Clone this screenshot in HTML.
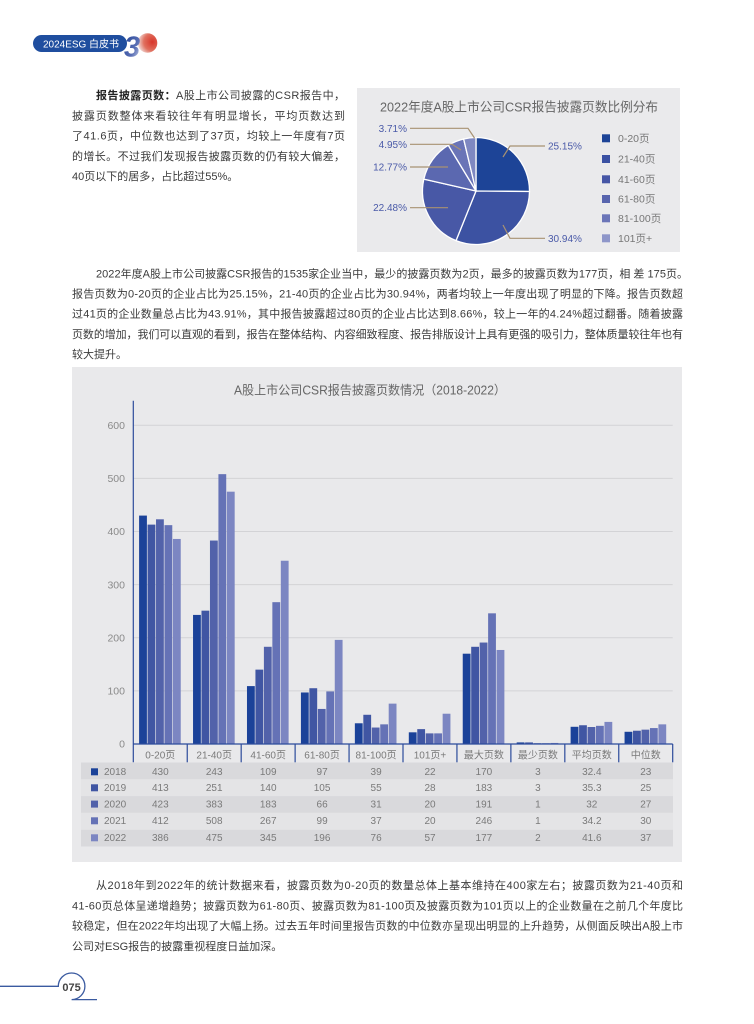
<!DOCTYPE html>
<html>
<head>
<meta charset="utf-8">
<style>
html,body{margin:0;padding:0;background:#ffffff;}
svg{display:block;}
</style>
</head>
<body>
<svg xmlns="http://www.w3.org/2000/svg" width="754" height="1024" viewBox="0 0 754 1024" font-family="'Liberation Sans','Noto Sans CJK SC',sans-serif">
<defs>
  <radialGradient id="redg" cx="0.75" cy="0.45" r="0.8">
    <stop offset="0" stop-color="#d8352a"/>
    <stop offset="0.55" stop-color="#e0705f"/>
    <stop offset="1" stop-color="#f4f0f0"/>
  </radialGradient>
  <linearGradient id="blueg" x1="0" y1="0" x2="1" y2="1">
    <stop offset="0" stop-color="#1c3f92"/>
    <stop offset="0.6" stop-color="#5a6fb5"/>
    <stop offset="1" stop-color="#e6e9f3"/>
  </linearGradient>
</defs>

<!-- Header -->
<rect x="33" y="35" width="94" height="17" rx="8.5" fill="#1f4e9f"/>
<text x="43" y="47.6" font-size="10" fill="#ffffff" textLength="76" lengthAdjust="spacingAndGlyphs">2024ESG 白皮书</text>
<circle cx="147.5" cy="43" r="9.8" fill="url(#redg)"/>
<text x="124" y="56.5" font-size="29" font-weight="bold" font-style="italic" fill="url(#blueg)">3</text>

<!-- Paragraph 1 -->
<g font-size="11" fill="#3a3a3a">
  <text x="96" y="99" textLength="249" lengthAdjust="spacing"><tspan font-weight="bold" fill="#222">报告披露页数：</tspan>A股上市公司披露的CSR报告中，</text>
  <text x="72" y="119.3" textLength="273" lengthAdjust="spacing">披露页数整体来看较往年有明显增长，平均页数达到</text>
  <text x="72" y="139.6" textLength="273" lengthAdjust="spacing">了41.6页，中位数也达到了37页，均较上一年度有7页</text>
  <text x="72" y="159.9" textLength="273" lengthAdjust="spacing">的增长。不过我们发现报告披露页数的仍有较大偏差，</text>
  <text x="72" y="180.2">40页以下的居多，占比超过55%。</text>
</g>

<!-- Pie panel -->
<rect x="357" y="88" width="323" height="164" fill="#eaeaec"/>
<text x="380" y="111.3" font-size="13" fill="#666666" textLength="278" lengthAdjust="spacingAndGlyphs">2022年度A股上市公司CSR报告披露页数比例分布</text>
<g stroke="#ffffff" stroke-width="1.3" stroke-linejoin="round">
  <path d="M476,191 L476,137.5 A53.5,53.5 0 0,1 529.5,191.5 Z" fill="#1d4497"/>
  <path d="M476,191 L529.5,191.5 A53.5,53.5 0 0,1 456.03,240.63 Z" fill="#3c52a2"/>
  <path d="M476,191 L456.03,240.63 A53.5,53.5 0 0,1 423.84,179.10 Z" fill="#4858a6"/>
  <path d="M476,191 L423.84,179.10 A53.5,53.5 0 0,1 448.30,145.23 Z" fill="#5b68b0"/>
  <path d="M476,191 L448.30,145.23 A53.5,53.5 0 0,1 463.64,138.95 Z" fill="#6a74b7"/>
  <path d="M476,191 L463.64,138.95 A53.5,53.5 0 0,1 476,137.5 Z" fill="#7f88c1"/>
</g>
<g stroke="#a89272" stroke-width="1.2" fill="none">
  <polyline points="503,157 510,146 545,146"/>
  <polyline points="503,225 510,238.3 545,238.3"/>
  <polyline points="410,207.7 448,207.7"/>
  <polyline points="410,167 448,167"/>
  <polyline points="410,144.3 452,144.3 461,150"/>
  <polyline points="410,128.3 468,128.3 474.5,138"/>
</g>
<g font-size="10" fill="#4a5aa8">
  <text x="548" y="149.5">25.15%</text>
  <text x="548" y="241.8">30.94%</text>
  <text x="407" y="211.2" text-anchor="end">22.48%</text>
  <text x="407" y="170.5" text-anchor="end">12.77%</text>
  <text x="407" y="147.8" text-anchor="end">4.95%</text>
  <text x="407" y="131.8" text-anchor="end">3.71%</text>
</g>
<g>
  <rect x="602" y="134.3" width="8" height="8" fill="#1d4497"/>
  <rect x="602" y="155" width="8" height="8" fill="#3b51a3"/>
  <rect x="602" y="175.3" width="8" height="8" fill="#4656a6"/>
  <rect x="602" y="195" width="8" height="8" fill="#5865ae"/>
  <rect x="602" y="214.3" width="8" height="8" fill="#6b75b8"/>
  <rect x="602" y="234.3" width="8" height="8" fill="#8e96c9"/>
</g>
<g font-size="10.5" fill="#777777">
  <text x="618" y="142">0-20页</text>
  <text x="618" y="162.7">21-40页</text>
  <text x="618" y="183">41-60页</text>
  <text x="618" y="202.7">61-80页</text>
  <text x="618" y="222">81-100页</text>
  <text x="618" y="242">101页+</text>
</g>

<!-- Paragraph 2 -->
<g font-size="11" fill="#3a3a3a">
  <text x="96" y="277.3" textLength="592" lengthAdjust="spacing">2022年度A股上市公司披露CSR报告的1535家企业当中，最少的披露页数为2页，最多的披露页数为177页，相 差 175页。</text>
  <text x="72" y="297.5" textLength="611" lengthAdjust="spacing">报告页数为0-20页的企业占比为25.15%，21-40页的企业占比为30.94%，两者均较上一年度出现了明显的下降。报告页数超</text>
  <text x="72" y="317.7" textLength="611" lengthAdjust="spacing">过41页的企业数量总占比为43.91%，其中报告披露超过80页的企业占比达到8.66%，较上一年的4.24%超过翻番。随着披露</text>
  <text x="72" y="337.9" textLength="611" lengthAdjust="spacing">页数的增加，我们可以直观的看到，报告在整体结构、内容细致程度、报告排版设计上具有更强的吸引力，整体质量较往年也有</text>
  <text x="72" y="358.1">较大提升。</text>
</g>

<!-- Bar chart panel -->
<rect x="72" y="367" width="610" height="495" fill="#e9e9eb"/>
<text x="370" y="394.5" font-size="12.5" fill="#666666" text-anchor="middle" textLength="272" lengthAdjust="spacingAndGlyphs">A股上市公司CSR报告披露页数情况（2018-2022）</text>

<!-- gridlines -->
<g stroke="#d3d3d6" stroke-width="1">
  <line x1="133.3" y1="425.3" x2="672.7" y2="425.3"/>
  <line x1="133.3" y1="478.4" x2="672.7" y2="478.4"/>
  <line x1="133.3" y1="531.5" x2="672.7" y2="531.5"/>
  <line x1="133.3" y1="584.6" x2="672.7" y2="584.6"/>
  <line x1="133.3" y1="637.8" x2="672.7" y2="637.8"/>
  <line x1="133.3" y1="690.9" x2="672.7" y2="690.9"/>
</g>
<g font-size="10.5" fill="#8a8a8a" text-anchor="end">
  <text x="125" y="429">600</text>
  <text x="125" y="482.1">500</text>
  <text x="125" y="535.2">400</text>
  <text x="125" y="588.3">300</text>
  <text x="125" y="641.5">200</text>
  <text x="125" y="694.6">100</text>
  <text x="125" y="747.7">0</text>
</g>

<!-- bars -->
<g id="bars">
  <g transform="translate(133.3,744) scale(1,-0.5312)">
    <rect x="5.8" y="0" width="7.8" height="430" fill="#1b4299"/>
    <rect x="14.26" y="0" width="7.8" height="413" fill="#4056a3"/>
    <rect x="22.72" y="0" width="7.8" height="423" fill="#5262aa"/>
    <rect x="31.18" y="0" width="7.8" height="412" fill="#6572b6"/>
    <rect x="39.64" y="0" width="7.8" height="386" fill="#7c86c2"/>
  </g>
  <g transform="translate(187.24,744) scale(1,-0.5312)">
    <rect x="5.8" y="0" width="7.8" height="243" fill="#1b4299"/>
    <rect x="14.26" y="0" width="7.8" height="251" fill="#4056a3"/>
    <rect x="22.72" y="0" width="7.8" height="383" fill="#5262aa"/>
    <rect x="31.18" y="0" width="7.8" height="508" fill="#6572b6"/>
    <rect x="39.64" y="0" width="7.8" height="475" fill="#7c86c2"/>
  </g>
  <g transform="translate(241.18,744) scale(1,-0.5312)">
    <rect x="5.8" y="0" width="7.8" height="109" fill="#1b4299"/>
    <rect x="14.26" y="0" width="7.8" height="140" fill="#4056a3"/>
    <rect x="22.72" y="0" width="7.8" height="183" fill="#5262aa"/>
    <rect x="31.18" y="0" width="7.8" height="267" fill="#6572b6"/>
    <rect x="39.64" y="0" width="7.8" height="345" fill="#7c86c2"/>
  </g>
  <g transform="translate(295.12,744) scale(1,-0.5312)">
    <rect x="5.8" y="0" width="7.8" height="97" fill="#1b4299"/>
    <rect x="14.26" y="0" width="7.8" height="105" fill="#4056a3"/>
    <rect x="22.72" y="0" width="7.8" height="66" fill="#5262aa"/>
    <rect x="31.18" y="0" width="7.8" height="99" fill="#6572b6"/>
    <rect x="39.64" y="0" width="7.8" height="196" fill="#7c86c2"/>
  </g>
  <g transform="translate(349.06,744) scale(1,-0.5312)">
    <rect x="5.8" y="0" width="7.8" height="39" fill="#1b4299"/>
    <rect x="14.26" y="0" width="7.8" height="55" fill="#4056a3"/>
    <rect x="22.72" y="0" width="7.8" height="31" fill="#5262aa"/>
    <rect x="31.18" y="0" width="7.8" height="37" fill="#6572b6"/>
    <rect x="39.64" y="0" width="7.8" height="76" fill="#7c86c2"/>
  </g>
  <g transform="translate(403,744) scale(1,-0.5312)">
    <rect x="5.8" y="0" width="7.8" height="22" fill="#1b4299"/>
    <rect x="14.26" y="0" width="7.8" height="28" fill="#4056a3"/>
    <rect x="22.72" y="0" width="7.8" height="20" fill="#5262aa"/>
    <rect x="31.18" y="0" width="7.8" height="20" fill="#6572b6"/>
    <rect x="39.64" y="0" width="7.8" height="57" fill="#7c86c2"/>
  </g>
  <g transform="translate(456.94,744) scale(1,-0.5312)">
    <rect x="5.8" y="0" width="7.8" height="170" fill="#1b4299"/>
    <rect x="14.26" y="0" width="7.8" height="183" fill="#4056a3"/>
    <rect x="22.72" y="0" width="7.8" height="191" fill="#5262aa"/>
    <rect x="31.18" y="0" width="7.8" height="246" fill="#6572b6"/>
    <rect x="39.64" y="0" width="7.8" height="177" fill="#7c86c2"/>
  </g>
  <g transform="translate(510.88,744) scale(1,-0.5312)">
    <rect x="5.8" y="0" width="7.8" height="3" fill="#1b4299"/>
    <rect x="14.26" y="0" width="7.8" height="3" fill="#4056a3"/>
    <rect x="22.72" y="0" width="7.8" height="1.5" fill="#5262aa"/>
    <rect x="31.18" y="0" width="7.8" height="1.5" fill="#6572b6"/>
    <rect x="39.64" y="0" width="7.8" height="2" fill="#7c86c2"/>
  </g>
  <g transform="translate(564.82,744) scale(1,-0.5312)">
    <rect x="5.8" y="0" width="7.8" height="32.4" fill="#1b4299"/>
    <rect x="14.26" y="0" width="7.8" height="35.3" fill="#4056a3"/>
    <rect x="22.72" y="0" width="7.8" height="32" fill="#5262aa"/>
    <rect x="31.18" y="0" width="7.8" height="34.2" fill="#6572b6"/>
    <rect x="39.64" y="0" width="7.8" height="41.6" fill="#7c86c2"/>
  </g>
  <g transform="translate(618.76,744) scale(1,-0.5312)">
    <rect x="5.8" y="0" width="7.8" height="23" fill="#1b4299"/>
    <rect x="14.26" y="0" width="7.8" height="25" fill="#4056a3"/>
    <rect x="22.72" y="0" width="7.8" height="27" fill="#5262aa"/>
    <rect x="31.18" y="0" width="7.8" height="30" fill="#6572b6"/>
    <rect x="39.64" y="0" width="7.8" height="37" fill="#7c86c2"/>
  </g>
</g>

<!-- table stripes -->
<rect x="81" y="762.5" width="592" height="16.8" fill="#d9d9dc"/>
<rect x="81" y="779.3" width="592" height="16.8" fill="#e4e4e6"/>
<rect x="81" y="796.1" width="592" height="16.8" fill="#d9d9dc"/>
<rect x="81" y="812.9" width="592" height="16.8" fill="#e4e4e6"/>
<rect x="81" y="829.7" width="592" height="16.8" fill="#d9d9dc"/>

<!-- axes -->
<g stroke="#2c4b9b" stroke-width="1.2">
  <line x1="133.3" y1="400.7" x2="133.3" y2="762.3"/>
  <line x1="133.3" y1="744" x2="672.7" y2="744"/>
  <line x1="187.24" y1="744" x2="187.24" y2="762.3"/>
  <line x1="241.18" y1="744" x2="241.18" y2="762.3"/>
  <line x1="295.12" y1="744" x2="295.12" y2="762.3"/>
  <line x1="349.06" y1="744" x2="349.06" y2="762.3"/>
  <line x1="403" y1="744" x2="403" y2="762.3"/>
  <line x1="456.94" y1="744" x2="456.94" y2="762.3"/>
  <line x1="510.88" y1="744" x2="510.88" y2="762.3"/>
  <line x1="564.82" y1="744" x2="564.82" y2="762.3"/>
  <line x1="618.76" y1="744" x2="618.76" y2="762.3"/>
  <line x1="672.7" y1="744" x2="672.7" y2="762.3"/>
</g>

<!-- x labels -->
<g font-size="10" fill="#7a7a7a" text-anchor="middle">
  <text x="160.3" y="758.6">0-20页</text>
  <text x="214.2" y="758.6">21-40页</text>
  <text x="268.2" y="758.6">41-60页</text>
  <text x="322.1" y="758.6">61-80页</text>
  <text x="376.1" y="758.6">81-100页</text>
  <text x="430" y="758.6">101页+</text>
  <text x="483.9" y="758.6">最大页数</text>
  <text x="537.9" y="758.6">最少页数</text>
  <text x="591.8" y="758.6">平均页数</text>
  <text x="645.8" y="758.6">中位数</text>
</g>

<!-- table legend -->
<rect x="91" y="768.3" width="7" height="7" fill="#1b4299"/>
<rect x="91" y="784.3" width="7" height="7" fill="#4056a3"/>
<rect x="91" y="800.6" width="7" height="7" fill="#5262aa"/>
<rect x="91" y="817.3" width="7" height="7" fill="#6572b6"/>
<rect x="91" y="834.3" width="7" height="7" fill="#7c86c2"/>
<g font-size="10" fill="#7a7a7a">
  <text x="104" y="775.2">2018</text>
  <text x="104" y="791.2">2019</text>
  <text x="104" y="807.5">2020</text>
  <text x="104" y="824.2">2021</text>
  <text x="104" y="841.2">2022</text>
</g>

<!-- table values -->
<g font-size="10" fill="#7a7a7a" text-anchor="middle">
  <g transform="translate(0,775.2)">
    <text x="160.3">430</text><text x="214.2">243</text><text x="268.2">109</text><text x="322.1">97</text><text x="376.1">39</text><text x="430">22</text><text x="483.9">170</text><text x="537.9">3</text><text x="591.8">32.4</text><text x="645.8">23</text>
  </g>
  <g transform="translate(0,791.2)">
    <text x="160.3">413</text><text x="214.2">251</text><text x="268.2">140</text><text x="322.1">105</text><text x="376.1">55</text><text x="430">28</text><text x="483.9">183</text><text x="537.9">3</text><text x="591.8">35.3</text><text x="645.8">25</text>
  </g>
  <g transform="translate(0,807.5)">
    <text x="160.3">423</text><text x="214.2">383</text><text x="268.2">183</text><text x="322.1">66</text><text x="376.1">31</text><text x="430">20</text><text x="483.9">191</text><text x="537.9">1</text><text x="591.8">32</text><text x="645.8">27</text>
  </g>
  <g transform="translate(0,824.2)">
    <text x="160.3">412</text><text x="214.2">508</text><text x="268.2">267</text><text x="322.1">99</text><text x="376.1">37</text><text x="430">20</text><text x="483.9">246</text><text x="537.9">1</text><text x="591.8">34.2</text><text x="645.8">30</text>
  </g>
  <g transform="translate(0,841.2)">
    <text x="160.3">386</text><text x="214.2">475</text><text x="268.2">345</text><text x="322.1">196</text><text x="376.1">76</text><text x="430">57</text><text x="483.9">177</text><text x="537.9">2</text><text x="591.8">41.6</text><text x="645.8">37</text>
  </g>
</g>

<!-- Paragraph 3 -->
<g font-size="11" fill="#3a3a3a">
  <text x="96" y="889" textLength="587" lengthAdjust="spacing">从2018年到2022年的统计数据来看，披露页数为0-20页的数量总体上基本维持在400家左右；披露页数为21-40页和</text>
  <text x="72" y="909.3" textLength="611" lengthAdjust="spacing">41-60页总体呈递增趋势；披露页数为61-80页、披露页数为81-100页及披露页数为101页以上的企业数量在之前几个年度比</text>
  <text x="72" y="929.6" textLength="611" lengthAdjust="spacing">较稳定，但在2022年均出现了大幅上扬。过去五年时间里报告页数的中位数亦呈现出明显的上升趋势，从侧面反映出A股上市</text>
  <text x="72" y="950">公司对ESG报告的披露重视程度日益加深。</text>
</g>

<!-- Footer -->
<path d="M0,986.3 H58.3 A13.3,13.3 0 1,1 71.6,999.6 H97" fill="none" stroke="#3a5aa0" stroke-width="1.3"/>
<text x="71.6" y="990.8" font-size="11" font-weight="bold" fill="#444444" text-anchor="middle">075</text>
</svg>
</body>
</html>
